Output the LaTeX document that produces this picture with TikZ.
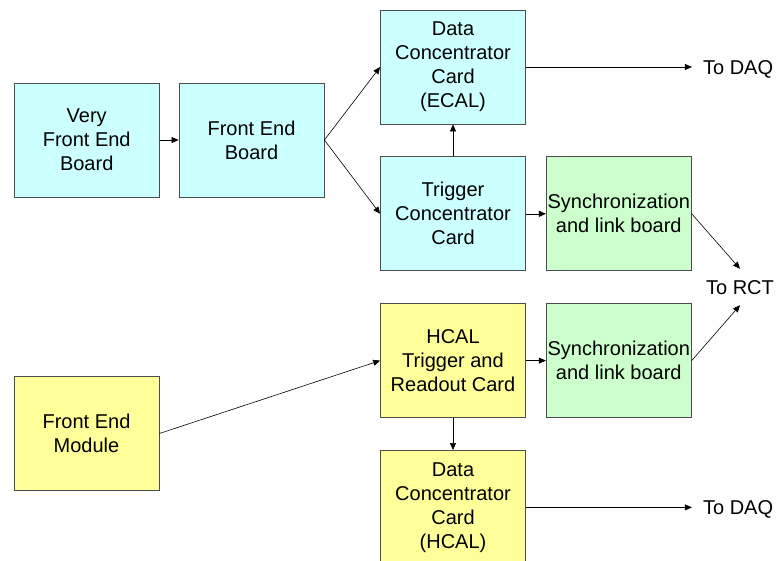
\documentclass[tikz,border=0pt]{standalone}
\usepackage{fontspec}
\setmainfont{Liberation Sans}
\usetikzlibrary{arrows.meta,positioning}

\definecolor{ecalcyan}{HTML}{CCFFFF}
\definecolor{hcalyellow}{HTML}{FFFF99}
\definecolor{linkgreen}{HTML}{CCFFCC}

\begin{document}
\begin{tikzpicture}[
    x=1pt, y=-1pt,
    node distance=32pt and 20pt,
    cardbox/.style={rectangle, draw=black!70, line width=0.8pt, minimum width=145pt, minimum height=114pt, inner sep=0pt, align=center, font=\fontsize{20}{24}\selectfont},
    ecalbox/.style={cardbox, fill=ecalcyan},
    hcalbox/.style={cardbox, fill=hcalyellow},
    linkbox/.style={cardbox, fill=linkgreen},
    outlabel/.style={inner xsep=11pt, inner ysep=11pt, text height=14pt, text depth=0pt, font=\fontsize{20}{24}\selectfont},
    arrow/.style={-{Triangle[length=7pt,width=6pt]}, line width=0.6pt}
]
\useasboundingbox (0,0) rectangle (776,560);

% === ECAL chain (top) ===
\node[ecalbox] (feb) at (251.5,140) {Front End\\Board};
\node[ecalbox, left=19pt of feb] (vfe) {Very\\Front End\\Board};
\node[ecalbox] (dcc-ecal) at (453,67) {Data\\Concentrator\\Card\\(ECAL)};
\node[ecalbox, below=of dcc-ecal] (tcc) {Trigger\\Concentrator\\Card};
\node[linkbox, right=of tcc] (slb-ecal) {Synchronization\\and link board};

% === HCAL chain (bottom) ===
\node[hcalbox] (fem) at (86.5,433.5) {Front End\\Module};
\node[hcalbox, below=of tcc] (htr) {HCAL\\Trigger and\\Readout Card};
\node[linkbox, right=of htr] (slb-hcal) {Synchronization\\and link board};
\node[hcalbox, below=of htr] (dcc-hcal) {Data\\Concentrator\\Card\\(HCAL)};

% === Outputs ===
\node[outlabel, right=166pt of dcc-ecal] (daq-ecal) {To DAQ};
\node[outlabel, right=166pt of dcc-hcal] (daq-hcal) {To DAQ};
\node[outlabel] (rct) at (740,287) {To RCT};

% === Connections ===
\draw[arrow] (vfe.east) -- (feb.west);
\draw[arrow] (feb.east) -- (dcc-ecal.west);
\draw[arrow] (feb.east) -- (tcc.west);
\draw[arrow] (tcc.north) -- (dcc-ecal.south);
\draw[arrow] (tcc.east) -- (slb-ecal.west);
\draw[arrow] (dcc-ecal.east) -- (daq-ecal.west);
\draw[arrow] (slb-ecal.east) -- (rct.north);

\draw[arrow] (fem.east) -- (htr.west);
\draw[arrow] (htr.east) -- (slb-hcal.west);
\draw[arrow] (htr.south) -- (dcc-hcal.north);
\draw[arrow] (dcc-hcal.east) -- (daq-hcal.west);
\draw[arrow] (slb-hcal.east) -- (rct.south);

\end{tikzpicture}
\end{document}
